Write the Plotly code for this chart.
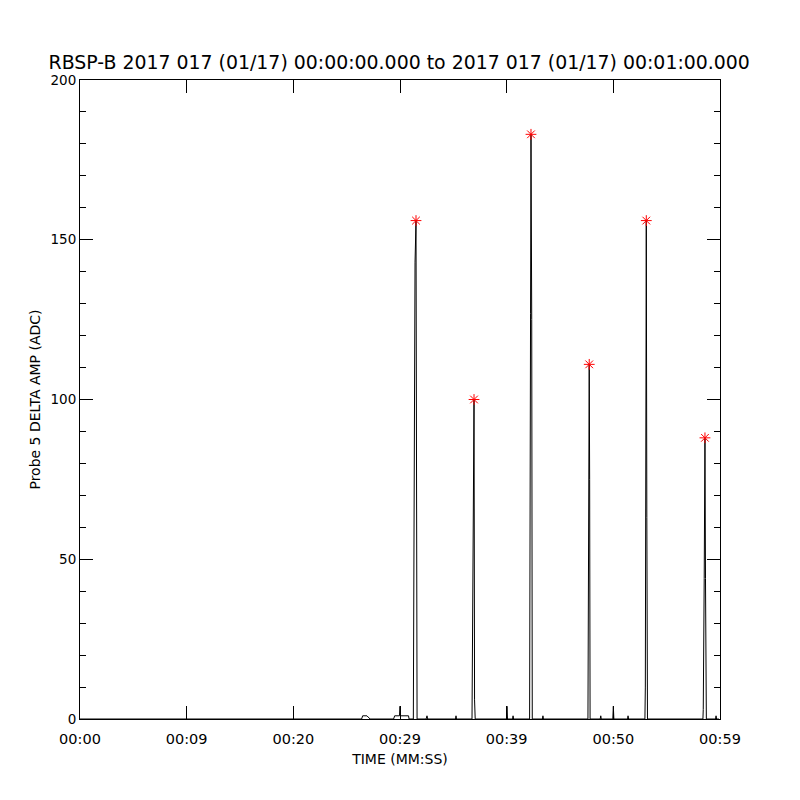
import plotly.graph_objects as go

# Signal trace (time in seconds from 00:00:00, amplitude in ADC)
time_s = [0.0, 26.4, 26.5, 26.9, 27.2,
          29.4, 29.5, 29.95, 30.0, 30.05, 30.8, 30.85,
          31.25, 31.31, 31.41, 31.5, 31.55, 31.6,
          32.45, 32.53, 32.6,
          35.2, 35.25, 35.3,
          36.75, 36.8, 36.87, 36.94, 36.99, 37.05,
          39.98, 40.03, 40.08,
          40.55, 40.6, 40.65,
          42.15, 42.19, 42.24, 42.28, 42.35, 42.4,
          43.35, 43.4, 43.45,
          47.62, 47.66, 47.71, 47.74, 47.78, 47.82,
          48.77, 48.82, 48.87,
          49.95, 50.0, 50.05,
          51.33, 51.38, 51.43,
          52.96, 53.0, 53.05, 53.09, 53.14, 53.2,
          58.4, 58.43, 58.52, 58.56, 58.59, 58.64, 58.72,
          59.58, 59.63, 59.68, 59.9]
amp = [0, 0, 1, 1, 0,
       0, 1, 1, 4, 1, 1, 0,
       0, 70, 143, 156, 8, 0,
       0, 1, 0,
       0, 1, 0,
       0, 35, 85, 100, 6, 0,
       0, 4, 0,
       0, 1, 0,
       0, 123, 127, 183, 125, 0,
       0, 1, 0,
       0, 70, 78, 111, 75, 0,
       0, 1, 0,
       0, 4, 0,
       0, 1, 0,
       0, 10, 140, 156, 63, 0,
       0, 3, 44, 86, 88, 44, 0,
       0, 1, 0, 0]

# Detected peaks
peak_time = [31.5, 36.94, 42.28, 47.74, 53.09, 58.59]
peak_amp = [156, 100, 183, 111, 156, 88]

x_tickvals = [0, 10, 20, 30, 40, 50, 60]
x_ticktext = ["00:00", "00:09", "00:20", "00:29", "00:39", "00:50", "00:59"]
y_tickvals = [0, 50, 100, 150, 200]

FONT = "DejaVu Sans"

fig = go.Figure()
fig.add_trace(go.Scatter(x=time_s, y=amp, mode="lines",
                         line=dict(color="black", width=1), showlegend=False))
fig.add_trace(go.Scatter(x=peak_time, y=peak_amp, mode="markers",
                         marker=dict(symbol="asterisk-open", size=9, color="red",
                                     line=dict(color="red", width=1)),
                         showlegend=False))

fig.update_layout(
    width=792, height=792,
    paper_bgcolor="white", plot_bgcolor="white",
    margin=dict(l=72, r=80, t=72, b=81),
    font=dict(family=FONT, color="black"),
    title=dict(text="RBSP-B 2017 017 (01/17) 00:00:00.000 to 2017 017 (01/17) 00:01:00.000",
               x=0.494, xanchor="center", y=0.931, yanchor="middle",
               font=dict(family=FONT, size=18.9, color="black")),
)
fig.update_xaxes(range=[0, 60], tickvals=x_tickvals, ticktext=x_ticktext,
                 showgrid=False, zeroline=False, showline=True, linecolor="black",
                 linewidth=1, mirror="ticks", ticks="inside", ticklen=13,
                 tickcolor="black", tickwidth=1,
                 tickfont=dict(family=FONT, size=14.5), ticklabelstandoff=7,
                 title=dict(text="TIME (MM:SS)", font=dict(family=FONT, size=14), standoff=7))
fig.update_yaxes(range=[0, 200], tickvals=y_tickvals,
                 showgrid=False, zeroline=False, showline=True, linecolor="black",
                 linewidth=1, mirror="ticks", ticks="inside", ticklen=13,
                 tickcolor="black", tickwidth=1,
                 minor=dict(ticks="inside", ticklen=6, dtick=10, tickcolor="black", showgrid=False),
                 tickfont=dict(family=FONT, size=13.5), ticklabelstandoff=0,
                 title=dict(text="Probe 5 DELTA AMP (ADC)", font=dict(family=FONT, size=14), standoff=6))

fig.write_html("out.html")
